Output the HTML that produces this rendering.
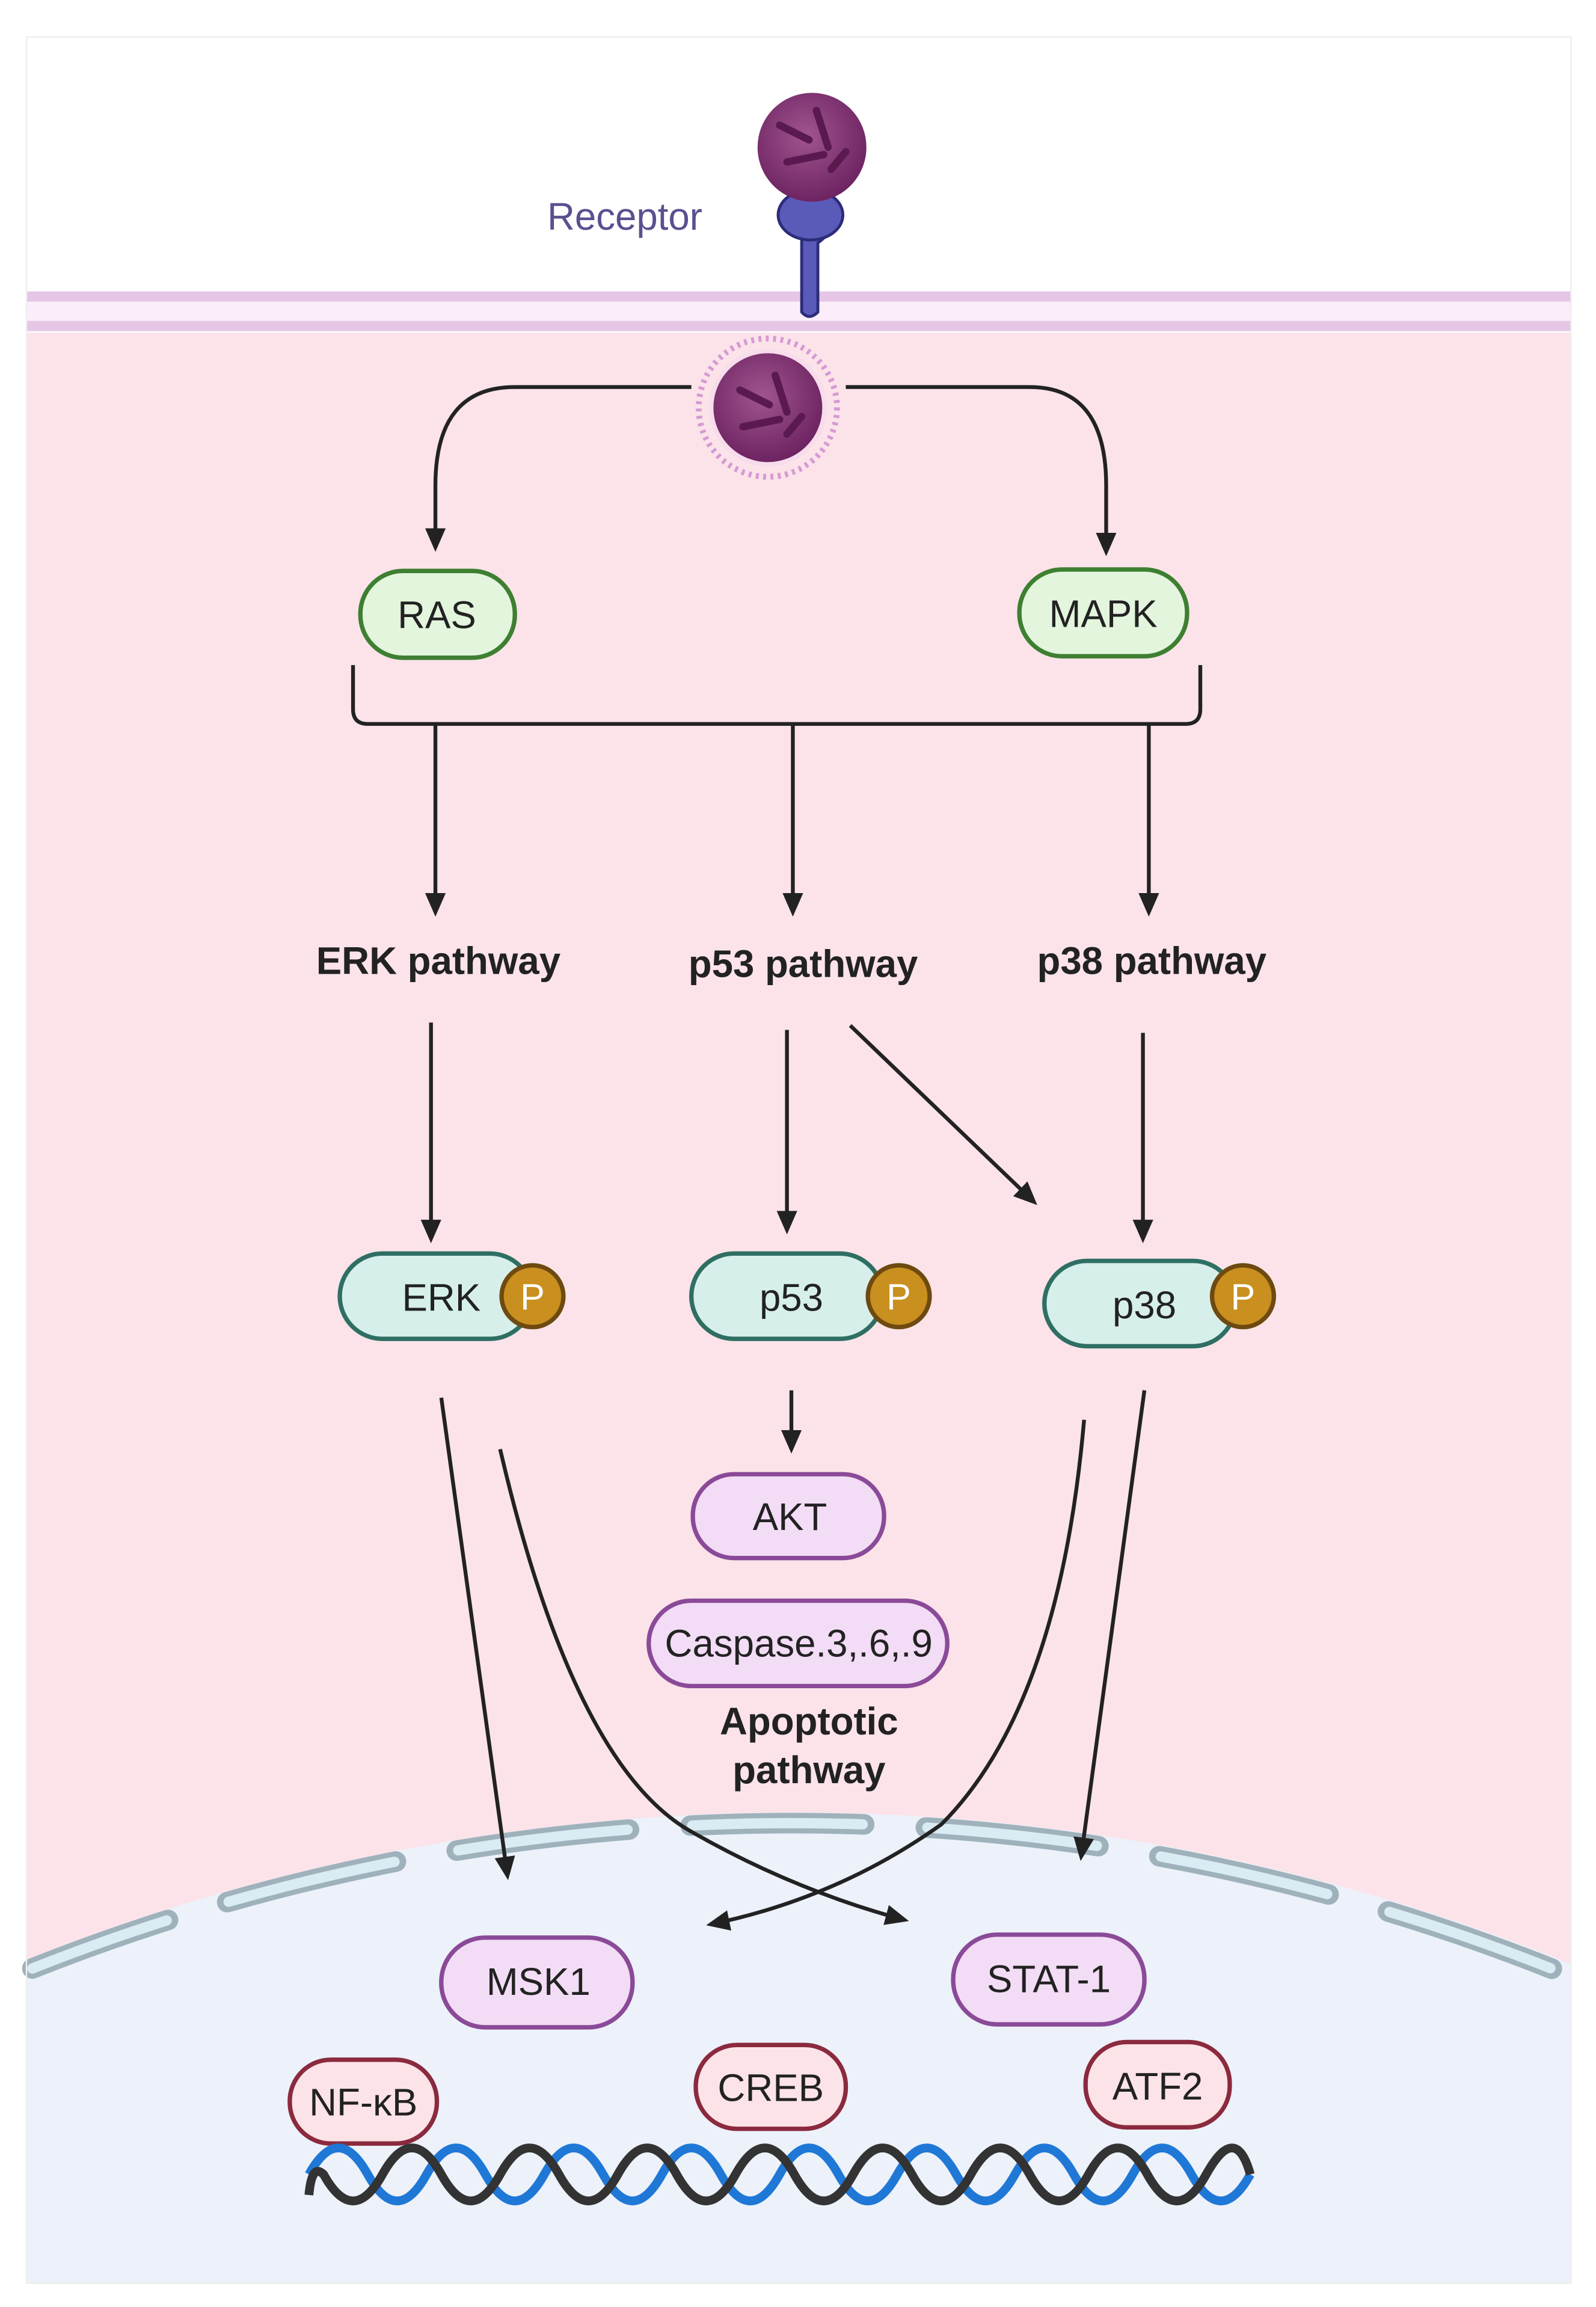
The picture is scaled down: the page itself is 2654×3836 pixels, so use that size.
<!DOCTYPE html>
<html><head><meta charset="utf-8">
<style>html,body{margin:0;padding:0;background:#fff;width:2654px;height:3836px;overflow:hidden}svg{display:block}</style>
</head><body>
<svg width="2654" height="3836" viewBox="0 0 1085 1568" xmlns="http://www.w3.org/2000/svg" font-family="Liberation Sans, Arial, sans-serif">
<defs>
<marker id="ah" markerWidth="16" markerHeight="16" refX="13" refY="8" orient="auto" markerUnits="userSpaceOnUse" viewBox="0 0 16 16">
<path d="M0,1 L16,8 L0,15 z" fill="#222"/></marker>
<radialGradient id="ball" cx="0.45" cy="0.4" r="0.6"><stop offset="0" stop-color="#a0558f"/><stop offset="1" stop-color="#6e2462"/></radialGradient>
</defs>
<rect width="1085" height="1568" fill="#fff"/>
<rect x="18" y="25" width="1050" height="1527" fill="#fff"/>
<rect x="18" y="226" width="1050" height="1326" fill="#fbe3e9"/>
<rect x="18" y="198" width="1050" height="7" fill="#e5c6e6"/>
<rect x="18" y="205" width="1050" height="13" fill="#fbeefa"/>
<rect x="18" y="218" width="1050" height="7" fill="#e5c6e6"/>
<path d="M18,1332 A1408,1408 0 0 1 1068,1335 L1068,1552 L18,1552 Z" fill="#ecf1fa"/>
<path d="M22,1338 A1398,1398 0 0 1 1062,1341" fill="none" stroke="#9fb2bc" stroke-width="14" stroke-dasharray="118 42" stroke-dashoffset="20" stroke-linecap="round"/>
<path d="M22,1338 A1398,1398 0 0 1 1062,1341" fill="none" stroke="#d9ebf3" stroke-width="7" stroke-dasharray="116 44" stroke-dashoffset="19" stroke-linecap="round"/>
<rect x="18" y="25" width="1050" height="1527" fill="none" stroke="#eee" stroke-width="1"/>

<text x="372" y="156" font-size="26" fill="#5b4f90">Receptor</text>
<path d="M545,140 L545,212 Q550,218 556,212 L556,165 Q570,155 568,140 Z" fill="#5a5bb8" stroke="#2c2c7a" stroke-width="2"/>
<ellipse cx="551" cy="146" rx="22" ry="17" fill="#5a5bb8" stroke="#2c2c7a" stroke-width="2"/>
<circle cx="552" cy="100" r="37" fill="url(#ball)"/>
<path d="M530,85 l20,10 M555,75 l8,25 M535,110 l25,-5 M565,115 l10,-12" stroke="#5a1a50" stroke-width="5" stroke-linecap="round"/>

<circle cx="522" cy="277" r="47" fill="none" stroke="#d79ad4" stroke-width="4" stroke-dasharray="2 3"/>
<circle cx="522" cy="277" r="40" fill="#f4d6ef" opacity="0.5"/>
<circle cx="522" cy="277" r="37" fill="url(#ball)"/>
<path d="M503,265 l20,10 M527,255 l8,25 M505,290 l25,-5 M535,295 l10,-12" stroke="#5a1a50" stroke-width="5" stroke-linecap="round"/>

<g fill="none" stroke="#222" stroke-width="2.6">
<path d="M470,263 L350,263 Q296,263 296,330 L296,372" marker-end="url(#ah)"/>
<path d="M575,263 L700,263 Q752,263 752,330 L752,375" marker-end="url(#ah)"/>
<path d="M240,452 L240,482 Q240,492 250,492 L806,492 Q816,492 816,482 L816,452"/>
<path d="M296,492 L296,620" marker-end="url(#ah)"/>
<path d="M539,492 L539,620" marker-end="url(#ah)"/>
<path d="M781,492 L781,620" marker-end="url(#ah)"/>
<path d="M293,695 L293,842" marker-end="url(#ah)"/>
<path d="M535,700 L535,836" marker-end="url(#ah)"/>
<path d="M578,697 L703,817" marker-end="url(#ah)"/>
<path d="M777,702 L777,842" marker-end="url(#ah)"/>
<path d="M538,945 L538,985" marker-end="url(#ah)"/>
<path d="M300,950 L345,1275" marker-end="url(#ah)"/>
<path d="M340,985 Q390,1200 470,1245 Q540,1285 615,1305" marker-end="url(#ah)"/>
<path d="M737,965 Q720,1160 640,1240 Q570,1290 483,1308" marker-end="url(#ah)"/>
<path d="M778,945 L735,1262" marker-end="url(#ah)"/>
</g>

<rect x="245" y="388" width="105" height="59" rx="29" fill="#e3f5dd" stroke="#3e7f32" stroke-width="3"/>
<text x="297" y="427" font-size="26" text-anchor="middle" fill="#222">RAS</text>
<rect x="693" y="387" width="114" height="59" rx="29" fill="#e3f5dd" stroke="#3e7f32" stroke-width="3"/>
<text x="750" y="426" font-size="26" text-anchor="middle" fill="#222">MAPK</text>

<g font-size="26" font-weight="bold" text-anchor="middle" fill="#222">
<text x="298" y="662">ERK pathway</text>
<text x="546" y="664">p53 pathway</text>
<text x="783" y="662">p38 pathway</text>
<text x="550" y="1179">Apoptotic</text>
<text x="550" y="1212">pathway</text>
</g>

<g stroke="#2f6f63" stroke-width="3" fill="#d6efea">
<rect x="231" y="852" width="131" height="58" rx="29"/>
<rect x="470" y="852" width="130" height="58" rx="29"/>
<rect x="710" y="857" width="130" height="58" rx="29"/>
</g>
<g fill="#c98f1f" stroke="#6e4a10" stroke-width="3">
<circle cx="362" cy="881" r="21"/><circle cx="611" cy="881" r="21"/><circle cx="845" cy="881" r="21"/>
</g>
<g font-size="25" text-anchor="middle" fill="#fff">
<text x="362" y="890">P</text><text x="611" y="890">P</text><text x="845" y="890">P</text>
</g>
<g font-size="26" text-anchor="middle" fill="#222">
<text x="300" y="891">ERK</text><text x="538" y="891">p53</text><text x="778" y="896">p38</text>
</g>

<g fill="#f3dcf5" stroke="#8a4a98" stroke-width="3">
<rect x="471" y="1002" width="130" height="57" rx="28"/>
<rect x="441" y="1088" width="203" height="58" rx="29"/>
<rect x="300" y="1317" width="130" height="61" rx="30"/>
<rect x="648" y="1315" width="130" height="61" rx="30"/>
</g>
<g font-size="26" text-anchor="middle" fill="#222">
<text x="537" y="1040">AKT</text>
<text x="543" y="1126">Caspase.3,.6,.9</text>
<text x="366" y="1356">MSK1</text>
<text x="713" y="1354">STAT-1</text>
</g>

<g fill="#fce3e8" stroke="#8b2a3e" stroke-width="3">
<rect x="197" y="1400" width="100" height="57" rx="28"/>
<rect x="473" y="1390" width="102" height="57" rx="28"/>
<rect x="738" y="1388" width="98" height="58" rx="28"/>
</g>
<g font-size="26" text-anchor="middle" fill="#222">
<text x="247" y="1438">NF-κB</text>
<text x="524" y="1428">CREB</text>
<text x="787" y="1427">ATF2</text>
</g>

<path d="M210,1478 Q230,1442 250,1478 T290,1478 T330,1478 T370,1478 T410,1478 T450,1478 T490,1478 T530,1478 T570,1478 T610,1478 T650,1478 T690,1478 T730,1478 T770,1478 T810,1478 T850,1478" fill="none" stroke="#1f78d6" stroke-width="6"/>
<path d="M210,1492 Q212,1470 220,1478 Q240,1514 260,1478 T300,1478 T340,1478 T380,1478 T420,1478 T460,1478 T500,1478 T540,1478 T580,1478 T620,1478 T660,1478 T700,1478 T740,1478 T780,1478 T820,1478 Q840,1442 850,1478" fill="none" stroke="#333" stroke-width="6"/>
</svg>
</body></html>
